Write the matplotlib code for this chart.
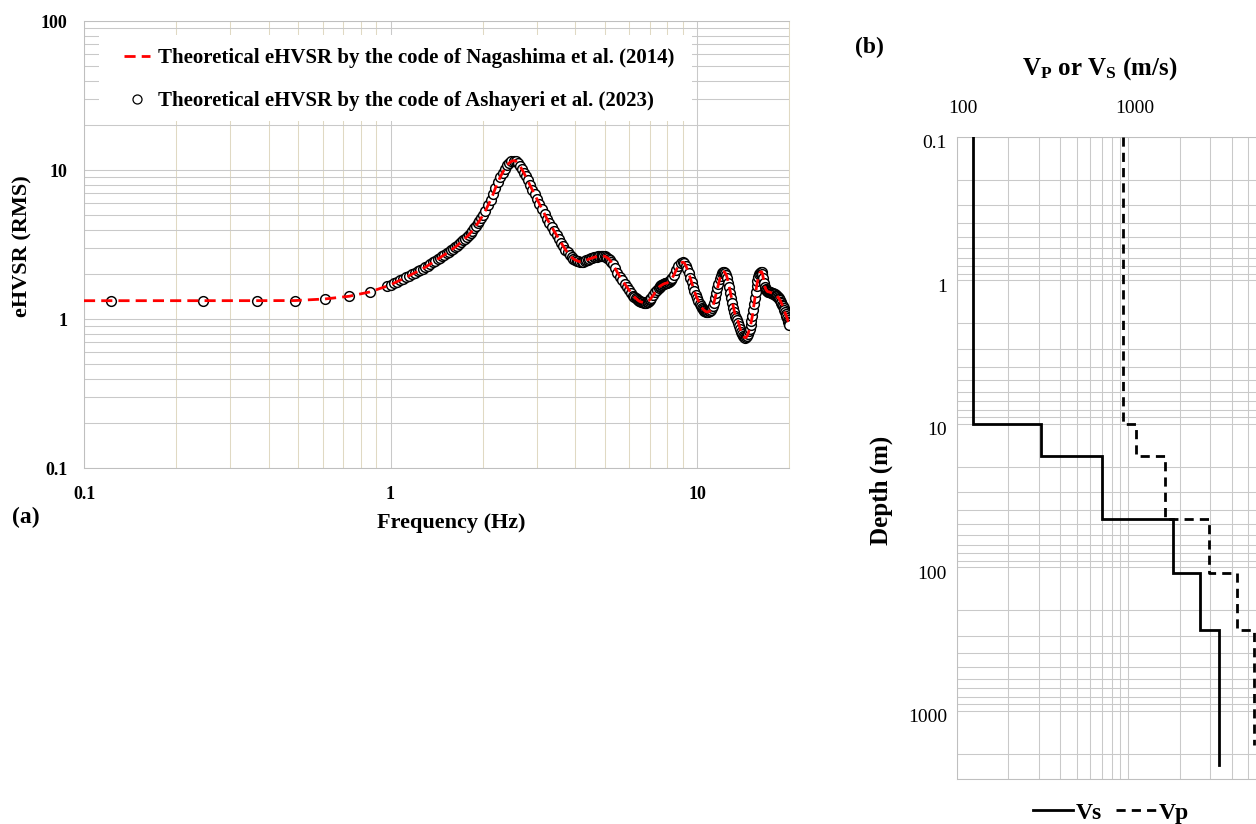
import numpy as np
import matplotlib
matplotlib.use("Agg")
import matplotlib.pyplot as plt
import matplotlib.transforms as mtransforms
from matplotlib.lines import Line2D
from matplotlib.patches import Rectangle
from matplotlib.ticker import LogLocator, NullFormatter

plt.rcParams['font.family'] = ['Liberation Serif', 'DejaVu Serif']
plt.rcParams['mathtext.fontset'] = 'custom'
plt.rcParams['mathtext.rm'] = 'Liberation Serif:bold'
plt.rcParams['mathtext.bf'] = 'Liberation Serif:bold'
plt.rcParams['mathtext.it'] = 'Liberation Serif:bold'

# ---------------- data: panel (a) ----------------
# sparse low-frequency points
freq_low = [0.1221, 0.2441, 0.3662, 0.4883, 0.6104, 0.7324, 0.8545, 0.9766]
amp_low = [1.333, 1.333, 1.334, 1.336, 1.369, 1.427, 1.525, 1.672]

# dense part of the curve
freq_hi = [
    1.000, 1.025, 1.050, 1.075, 1.100, 1.125, 1.150, 1.175, 1.200, 1.225,
    1.250, 1.275, 1.300, 1.325, 1.350, 1.375, 1.400, 1.425, 1.450, 1.475,
    1.500, 1.525, 1.550, 1.575, 1.600, 1.625, 1.650, 1.675, 1.700, 1.725,
    1.750, 1.775, 1.800, 1.825, 1.850, 1.875, 1.900, 1.925, 1.950, 1.975,
    2.00, 2.04, 2.08, 2.12, 2.16, 2.20, 2.24, 2.28, 2.32, 2.36,
    2.40, 2.44, 2.48, 2.52, 2.56, 2.60, 2.64, 2.68, 2.72, 2.76,
    2.80, 2.85, 2.90, 2.95, 3.00, 3.06, 3.12, 3.18, 3.24, 3.30,
    3.36, 3.42, 3.48, 3.54, 3.60, 3.66, 3.72, 3.78, 3.84, 3.90,
    3.95, 4.00, 4.05, 4.10, 4.15, 4.20, 4.25, 4.30, 4.35, 4.40,
    4.45, 4.50, 4.55, 4.60, 4.65, 4.70, 4.75, 4.80, 4.85, 4.90,
    4.95, 5.00, 5.05, 5.10, 5.15, 5.20, 5.25, 5.30, 5.40, 5.50,
    5.60, 5.70, 5.80, 5.90, 6.00, 6.10, 6.20, 6.25, 6.30, 6.35,
    6.40, 6.45, 6.50, 6.55, 6.60, 6.65, 6.70, 6.75, 6.80, 6.85,
    6.90, 6.95, 7.00, 7.05, 7.10, 7.20, 7.30, 7.40, 7.50, 7.55,
    7.60, 7.65, 7.70, 7.75, 7.80, 7.85, 7.90, 7.95, 8.00, 8.05,
    8.10, 8.15, 8.20, 8.25, 8.30, 8.40, 8.55, 8.70, 8.85, 9.00,
    9.10, 9.20, 9.30, 9.40, 9.50, 9.60, 9.70, 9.80, 9.90, 10.00,
    10.10, 10.20, 10.27, 10.35, 10.42, 10.50, 10.57, 10.65, 10.72, 10.80,
    10.87, 10.95, 11.02, 11.10, 11.17, 11.25, 11.35, 11.45, 11.55, 11.65,
    11.75, 11.85, 11.95, 12.05, 12.15, 12.25, 12.35, 12.45, 12.55, 12.65,
    12.75, 12.85, 12.95, 13.05, 13.15, 13.25, 13.35, 13.45, 13.55, 13.65,
    13.75, 13.85, 13.95, 14.05, 14.15, 14.25, 14.35, 14.45, 14.55, 14.65,
    14.75, 14.85, 14.95, 15.05, 15.15, 15.25, 15.35, 15.45, 15.55, 15.65,
    15.75, 15.85, 15.95, 16.05, 16.15, 16.25, 16.35, 16.45, 16.55, 16.65,
    16.75, 16.85, 16.95, 17.05, 17.15, 17.25, 17.35, 17.45, 17.55, 17.65,
    17.75, 17.85, 17.95, 18.05, 18.15, 18.25, 18.35, 18.45, 18.55, 18.65,
    18.75, 18.85, 18.95, 19.05, 19.15, 19.25, 19.35, 19.45, 19.55, 19.65,
    19.75, 19.85, 19.93, 20.00]
amp_hi = [
    1.700, 1.745, 1.790, 1.830, 1.870, 1.915, 1.960, 2.005, 2.050, 2.095,
    2.140, 2.190, 2.240, 2.295, 2.350, 2.410, 2.470, 2.530, 2.590, 2.650,
    2.710, 2.775, 2.840, 2.910, 2.980, 3.050, 3.120, 3.210, 3.300, 3.390,
    3.480, 3.580, 3.680, 3.810, 3.940, 4.090, 4.240, 4.410, 4.580, 4.780,
    4.98, 5.36, 5.82, 6.30, 6.90, 7.62, 8.32, 9.00, 9.65, 10.25,
    10.80, 11.20, 11.48, 11.62, 11.55, 11.20, 10.75, 10.20, 9.65, 9.10,
    8.55, 7.95, 7.40, 6.90, 6.45, 5.95, 5.50, 5.08, 4.72, 4.42,
    4.15, 3.90, 3.67, 3.46, 3.27, 3.10, 2.94, 2.81, 2.70, 2.61,
    2.55, 2.505, 2.475, 2.45, 2.435, 2.43, 2.44, 2.46, 2.49, 2.515,
    2.54, 2.56, 2.58, 2.60, 2.62, 2.63, 2.64, 2.65, 2.66, 2.665,
    2.66, 2.645, 2.62, 2.585, 2.54, 2.485, 2.42, 2.35, 2.205, 2.06,
    1.935, 1.83, 1.735, 1.65, 1.57, 1.495, 1.435, 1.41, 1.39, 1.37,
    1.35, 1.33, 1.32, 1.31, 1.305, 1.30, 1.295, 1.29, 1.293, 1.30,
    1.315, 1.33, 1.35, 1.37, 1.40, 1.45, 1.52, 1.58, 1.63, 1.66,
    1.68, 1.69, 1.705, 1.72, 1.73, 1.74, 1.745, 1.75, 1.76, 1.77,
    1.78, 1.80, 1.83, 1.86, 1.90, 1.98, 2.14, 2.29, 2.39, 2.42,
    2.38, 2.28, 2.16, 2.03, 1.90, 1.77, 1.65, 1.55, 1.46, 1.39,
    1.33, 1.27, 1.235, 1.20, 1.18, 1.16, 1.145, 1.13, 1.125, 1.12,
    1.122, 1.13, 1.14, 1.16, 1.185, 1.22, 1.29, 1.39, 1.50, 1.61,
    1.73, 1.85, 1.96, 2.03, 2.08, 2.085, 2.05, 1.99, 1.89, 1.76,
    1.64, 1.51, 1.39, 1.29, 1.20, 1.12, 1.06, 1.02, 0.99, 0.95,
    0.90, 0.86, 0.82, 0.795, 0.775, 0.76, 0.753, 0.757, 0.77, 0.795,
    0.83, 0.86, 0.91, 0.98, 1.05, 1.15, 1.27, 1.40, 1.53, 1.67,
    1.80, 1.92, 2.00, 2.06, 2.085, 2.08, 2.02, 1.89, 1.76, 1.66,
    1.60, 1.565, 1.54, 1.53, 1.528, 1.523, 1.515, 1.505, 1.50, 1.492,
    1.487, 1.478, 1.468, 1.455, 1.44, 1.425, 1.41, 1.39, 1.37, 1.345,
    1.315, 1.285, 1.255, 1.22, 1.185, 1.15, 1.115, 1.085, 1.055, 1.025,
    0.995, 0.96, 0.94, 0.92]

# Nagashima curve starts at the left edge of the axis
nag_start_f = [0.1]
nag_start_a = [1.333]

x_ticks_a = [0.1, 1, 10]
x_ticklabels_a = ['0.1', '1', '10']
y_ticks_a = [0.1, 1, 10, 100]
y_ticklabels_a = ['0.1', '1', '10', '100']

legend_nag = 'Theoretical eHVSR by the code of Nagashima et al. (2014)'
legend_ash = 'Theoretical eHVSR by the code of Ashayeri et al. (2023)'

# ---------------- data: panel (b) ----------------
vs_values = [125, 310, 705, 1815, 2620, 3380]
vs_layer_depths = [0.1, 10, 16.8, 46, 110, 275, 2400]
vp_values = [935, 1110, 1640, 2960, 4290, 5420]
vp_layer_depths = [0.1, 10, 16.8, 46, 110, 275, 1730]

x_ticks_b = [100, 1000]
x_ticklabels_b = ['100', '1000']
y_ticks_b = [0.1, 1, 10, 100, 1000]
y_ticklabels_b = ['0.1', '1', '10', '100', '1000']

# ---------------- figure ----------------
W, H = 1256, 824
fig = plt.figure(figsize=(W / 100, H / 100), dpi=100)


def fx(px):
    return px / W


def fy(py):
    return 1 - py / H


GRID = '#c9c9c9'
BEIGE = '#e0d9c3'
GLW = 0.75

# ----- panel (a) -----
L, R, T, B = 84, 789.3, 21.3, 468.3
ax = fig.add_axes([fx(L), fy(B), fx(R) - fx(L), fy(T) - fy(B)])
ax.set_xscale('log')
ax.set_yscale('log')
ax.set_xlim(0.1, 20)
ax.set_ylim(0.1, 100)
ax.set_axisbelow(True)
ax.xaxis.set_minor_locator(LogLocator(base=10, subs=np.arange(2, 10), numticks=30))
ax.yaxis.set_minor_locator(LogLocator(base=10, subs=np.arange(2, 10), numticks=30))
ax.xaxis.set_minor_formatter(NullFormatter())
ax.yaxis.set_minor_formatter(NullFormatter())
ax.set_xticks(x_ticks_a)
ax.set_xticklabels(x_ticklabels_a)
ax.set_yticks(y_ticks_a)
ax.set_yticklabels(y_ticklabels_a)
ax.tick_params(which='both', length=0)
ax.tick_params(axis='x', which='major', pad=13, labelsize=13)
ax.tick_params(axis='y', which='major', pad=12, labelsize=13)
for lab in ax.get_xticklabels() + ax.get_yticklabels():
    lab.set_fontweight('bold')
ax.grid(which='major', axis='x', color=GRID, lw=GLW)
ax.grid(which='minor', axis='x', color=BEIGE, lw=GLW)
ax.grid(which='both', axis='y', color=GRID, lw=GLW)
for s in ['left', 'bottom', 'top']:
    ax.spines[s].set_color('#bfbfbf')
    ax.spines[s].set_linewidth(GLW)
ax.spines['right'].set_color(BEIGE)
ax.spines['right'].set_linewidth(GLW)

# white legend background
bx0, by0, bx1, by1 = 99, 35, 692, 121
ax.add_patch(Rectangle((fx(bx0), fy(by1)), fx(bx1) - fx(bx0), fy(by0) - fy(by1),
                       transform=fig.transFigure, facecolor='white', edgecolor='none',
                       zorder=1))

ax.plot(freq_low + freq_hi, amp_low + amp_hi, linestyle='none', marker='o',
        markersize=7, markerfacecolor='white', markeredgecolor='black',
        markeredgewidth=1.05, zorder=3)
ax.plot(nag_start_f + freq_low + freq_hi, nag_start_a + amp_low + amp_hi,
        color='#ff0000', lw=2.0, dashes=(4, 2.2), zorder=4)

handles = [Line2D([], [], color='#ff0000', lw=2.0, dashes=(4, 2.2)),
           Line2D([], [], linestyle='none', marker='o', markersize=6.5,
                  markerfacecolor='white', markeredgecolor='black', markeredgewidth=0.9)]
leg = ax.legend(handles, [legend_nag, legend_ash], loc='upper left',
                bbox_to_anchor=(fx(124), fy(48)), bbox_transform=fig.transFigure,
                frameon=False, borderpad=0, borderaxespad=0, handlelength=1.25,
                handletextpad=0.4, labelspacing=1.1,
                prop={'family': 'Liberation Serif', 'weight': 'bold', 'size': 15})
leg.set_zorder(5)

fig.text(fx(22.5), fy(246), 'eHVSR (RMS)', rotation=90, ha='center', va='center',
         fontsize=16, fontweight='bold')
fig.text(fx(451), fy(523), 'Frequency (Hz)', ha='center', va='center',
         fontsize=16, fontweight='bold')
fig.text(fx(26), fy(517), '(a)', ha='center', va='center', fontsize=17, fontweight='bold')

# ----- panel (b) -----
L2, R2, T2, B2 = 956.7, 1300, 136.7, 779
ax2 = fig.add_axes([fx(L2), fy(B2), fx(R2) - fx(L2), fy(T2) - fy(B2)])
ax2.set_xscale('log')
ax2.set_yscale('log')
ax2.set_xlim(100, 10000)
ax2.set_ylim(3000, 0.1)
ax2.set_axisbelow(True)
ax2.xaxis.set_minor_locator(LogLocator(base=10, subs=np.arange(2, 10), numticks=30))
ax2.yaxis.set_minor_locator(LogLocator(base=10, subs=np.arange(2, 10), numticks=30))
ax2.xaxis.set_minor_formatter(NullFormatter())
ax2.yaxis.set_minor_formatter(NullFormatter())
ax2.xaxis.tick_top()
ax2.set_xticks(x_ticks_b)
ax2.set_xticklabels(x_ticklabels_b)
ax2.set_yticks(y_ticks_b)
ax2.set_yticklabels(y_ticklabels_b)
ax2.tick_params(which='both', length=0)
ax2.tick_params(axis='x', which='major', pad=14, labelsize=14)
ax2.tick_params(axis='y', which='major', pad=7, labelsize=14)
ax2.grid(which='both', color=GRID, lw=GLW)
for s in ['left', 'bottom', 'top']:
    ax2.spines[s].set_color('#bfbfbf')
    ax2.spines[s].set_linewidth(GLW)
ax2.spines['right'].set_visible(False)

# Excel-like small offsets of the tick labels
off_x = mtransforms.ScaledTranslation(6 / 100, 0, fig.dpi_scale_trans)
off_y = mtransforms.ScaledTranslation(0, -5 / 100, fig.dpi_scale_trans)
for t in ax2.xaxis.get_major_ticks():
    t.label2.set_transform(t.label2.get_transform() + off_x)
for t in ax2.yaxis.get_major_ticks():
    t.label1.set_transform(t.label1.get_transform() + off_y)


def step_path(values, depths):
    xs, ys = [], []
    for i, v in enumerate(values):
        xs += [v, v]
        ys += [depths[i], depths[i + 1]]
    return xs, ys


vx, vy = step_path(vs_values, vs_layer_depths)
px, py = step_path(vp_values, vp_layer_depths)
ax2.plot(vx, vy, color='black', lw=2.0, solid_joinstyle='miter', zorder=3)
ax2.plot(px, py, color='black', lw=2.0, dashes=(3.3, 2.2), zorder=3)

fig.text(fx(1100), fy(75), r'$\mathbf{V_{P}}$ or $\mathbf{V_{S}}$ (m/s)', ha='center',
         va='baseline', fontsize=18, fontweight='bold')
fig.text(fx(881.7), fy(490), 'Depth (m)', rotation=90, ha='center', va='center',
         fontsize=18, fontweight='bold')
fig.text(fx(869), fy(47.5), '(b)', ha='center', va='center', fontsize=17,
         fontweight='bold')

h2 = [Line2D([], [], color='black', lw=2.0),
      Line2D([], [], color='black', lw=2.0, dashes=(3.3, 2.2))]
fig.legend(h2, ['Vs', 'Vp'], loc='center', bbox_to_anchor=(fx(1111), fy(813)),
           bbox_transform=fig.transFigure, ncol=2, frameon=False,
           handlelength=1.7, handletextpad=0.1, columnspacing=0.6,
           prop={'family': 'Liberation Serif', 'weight': 'bold', 'size': 17})

fig.savefig('out.png', dpi=100)
